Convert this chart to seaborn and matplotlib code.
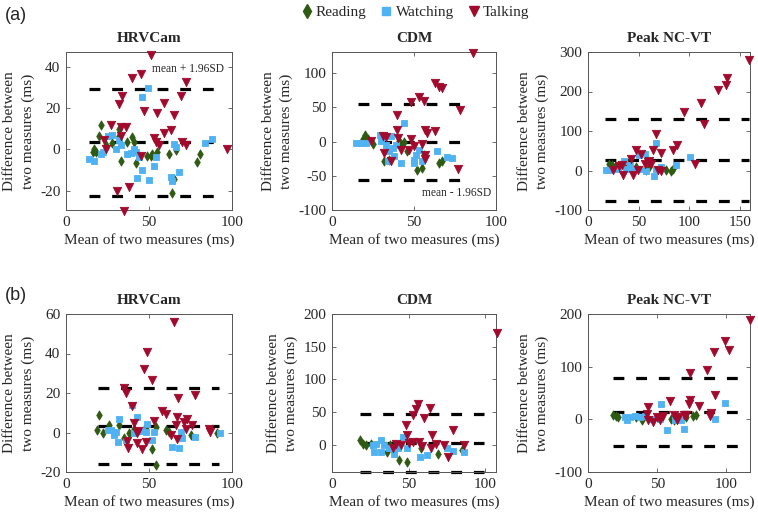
import matplotlib
matplotlib.use("Agg")
import matplotlib.pyplot as plt
import seaborn as sns
import pandas as pd
from matplotlib.lines import Line2D

# ---------------- data ----------------
groups = ["Reading", "Watching", "Talking"]
colors = {"Reading": "#2f5a12", "Watching": "#4fb2f2", "Talking": "#a10a2c"}
markers = {"Reading": "d", "Watching": "s", "Talking": "v"}
sizes = {"Reading": 22, "Watching": 20, "Talking": 36}

titles = ["HRVCam", "CDM", "Peak NC-VT"]

# (a) HRVCam
a_hrv_read_x = [21, 17, 16, 18, 20, 24, 32, 32, 33, 40, 41, 42, 49, 51, 52, 55, 62, 66, 64, 65, 79, 81, 37, 28]
a_hrv_read_y = [11.7, 0.3, -1.3, -1, 6.8, 2, 10, 6.8, -5.4, 6, 3.6, -6.5, -3, -3, -2, -1, -2, -0.5, -21.3, -14.3, -6.2, -2, 3.6, 3.2]
a_hrv_watch_x = [49.6, 46, 14, 17, 21, 22, 25, 28, 30, 33, 37, 39, 41, 42, 44, 46, 43, 50, 53, 54, 65, 66, 63, 64, 68, 84, 88, 32]
a_hrv_watch_y = [30, 25.5, -4.5, -5.4, -2, -1, 6.5, 7, 0.3, 2, -2, -1.6, 0.3, -1.3, -3.7, -10.2, -13.8, -15, -8, -3.7, 2.8, 1, -13.5, -15.6, -11, 3.2, 5.2, 4.4]
a_hrv_talk_x = [51, 40, 45, 72, 34, 32, 69, 47, 59, 55, 65, 27, 33, 36, 59, 63, 53, 54, 23, 24, 33, 45, 56, 70, 72, 97, 31, 38, 35]
a_hrv_talk_y = [46, 35, 36.6, 33, 26, 22, 26, 18.7, 22.8, 17.7, 17, 12, 11, 11, 8, 9.6, 5.7, 3.6, 4.4, 0, 6.5, -3.4, 2, 3.6, 2.3, 0, -20, -18.4, -29.8]

# (a) CDM
a_cdm_read_x = [20, 19, 22, 25, 32, 35, 41, 46, 52, 55, 56, 65, 67, 42, 44]
a_cdm_read_y = [9.3, 4.4, 4, -3.4, -29, -26.5, 1.5, -14, -41, -39, -19, -31, -29, -4, 0]
a_cdm_watch_x = [44, 14.6, 17.7, 20.7, 29, 30, 33, 36, 37, 35, 34, 38, 42, 50, 51, 53, 50, 55, 64, 70, 73, 39]
a_cdm_watch_y = [26.5, -2.5, -2.5, -2, 10, 0.5, -4.4, 8, -9, -14, -29, -21.5, -31, -26.5, -19, -13, -31, -29, -14, -22.5, -24, -4.4]
a_cdm_talk_x = [86, 63, 65, 67, 53, 56, 48, 78, 39.6, 39.6, 63, 57, 58, 40.5, 48, 31, 33, 24, 55, 42, 47, 50, 32, 36, 57, 57, 77]
a_cdm_talk_y = [130, 85, 80, 79, 65, 60, 58, 46, 38.7, 17.6, 16, 17.6, 12.7, 5.4, 4.4, 8, 6, 0.5, -3.4, -13, -13, -7, -16.7, -29, -19, -26, -40]

# (a) Peak NC-VT
a_pk_read_x = [21, 24, 77, 82, 84, 60, 57, 47, 39, 27]
a_pk_read_y = [17, 12.7, 2.5, 0, 4, 8.5, 2.5, 8.5, 17, 8]
a_pk_watch_x = [67, 101, 50, 56, 18, 21, 36, 38, 44, 51, 57, 65, 67, 72, 87, 41, 30]
a_pk_watch_y = [69, 34, 38, 42, 2.5, 2.5, 25, 4, 4, 4, -2.5, -13, 4, 8.5, 12.7, 12.7, 4]
a_pk_talk_x = [159, 137, 136, 128, 112, 95, 115, 67, 88, 84, 47, 52, 64, 72, 42, 59, 62, 56, 106, 25, 31, 34, 35, 44, 49, 69, 72, 60]
a_pk_talk_y = [279, 234, 217, 205, 172, 148, 118, 93, 65, 51, 53, 42, 53, 44, 30, 21, 17, 17, 17, 2.5, 11, 13, -11, -11, 2.5, 2.5, 0, 25]

# (b) HRVCam
b_hrv_read_x = [19.6, 18.4, 22, 26, 32, 35, 51.6, 54, 54, 60, 62, 75, 91, 48, 38, 41]
b_hrv_read_y = [9, 1.2, -0.5, 3.7, 3.7, -2.7, -8.5, -16.3, 2.8, 1.2, 0.3, -1.3, -0.5, 2.8, -0.5, 2]
b_hrv_watch_x = [39.6, 32, 43, 49, 27, 30, 29, 31.6, 36, 41, 48, 53, 51.6, 64, 68, 69, 70, 78, 93, 46, 25]
b_hrv_watch_y = [14, 7, 7.8, 4.5, 1.2, 0.3, -1.3, -4.7, -3.8, -0.5, 0.3, 0.3, -3.8, -7.2, -7.7, 0.3, -3, -2.2, -0.5, 1, 1.5]
b_hrv_talk_x = [65, 48.6, 47, 52, 35, 36, 67.6, 78, 40, 58, 60, 41, 53, 67, 73, 71, 76, 66, 43.6, 42.6, 37, 42.6, 48, 45.6, 37.4, 63, 66.6, 86, 87, 72]
b_hrv_talk_y = [55.7, 41, 32.3, 26.7, 22.5, 20, 17.3, 19, 13.3, 10.7, 9.5, 4.8, 5.7, 7.8, 7, 5.3, 4, 4, 0.7, -0.5, -4.3, -5.2, -4.7, -8.3, -8, -1.3, -3.5, 2, 0.3, 2]

# (b) CDM
b_cdm_read_x = [18, 20, 22, 25.4, 36, 44, 49, 58, 69, 85, 42, 38]
b_cdm_read_y = [6.7, 1.5, -1, 1.5, -11, -23, -27, -6, -14, -9, 0, -1]
b_cdm_watch_x = [46, 26.5, 28.7, 32, 27.6, 32, 37.4, 40.6, 43, 49, 57.6, 62, 75, 78.7, 86, 34]
b_cdm_watch_y = [12, -1, 1.5, 6.7, -11, -12, -6, -15, -6, -6, -19, -16, -5, -10, -11, -1]
b_cdm_talk_x = [107.4, 56, 55, 53, 64, 60, 48, 49, 65, 79, 41.7, 45, 57, 59, 64.6, 73, 76, 86, 52.6, 39.6, 50, 68]
b_cdm_talk_y = [171, 61.5, 55, 45, 56, 41, 30, 14, 14, 22, 1.5, -1, 4, -2, -6, -1, -19, 0, 4, -6, 2, 1]

# (b) Peak NC-VT
b_pk_read_x = [18, 20, 22, 35, 38.7, 60, 62, 71, 76, 78, 66]
b_pk_read_y = [7.6, 5.7, 4.4, 4.4, -0.6, 1.3, -2, 4.4, 5.7, 7.6, 3]
b_pk_watch_x = [53, 99, 57, 69, 26.7, 30, 34, 37.5, 46, 52, 63, 67, 91.6, 28, 41]
b_pk_watch_y = [30, 31, -20, -18, 4.4, 4.4, 5.7, 4.4, 1.3, 1.3, -2, -2, 1.3, -0.6, 6]
b_pk_talk_x = [117, 99, 102, 91, 86, 73.5, 92, 73.5, 73, 59, 80, 43, 42.5, 43.5, 47, 50, 54, 62, 65, 69, 71, 88, 89, 52, 64]
b_pk_talk_y = [189, 149, 132, 128, 94, 88, 47, 36, 30, 35, 25, 23, 9.5, -0.6, -5, 4.4, 5.7, 7.6, 4.4, 7.6, 7.6, 5.7, 12, -1, -2]

# limits of agreement (lower, mean, upper) and x-extent of the lines
loa = [[-22.8, 3.6, 29.6], [-55.9, 0.0, 54.4], [-77, 27, 131],
       [-15.8, 3.3, 22.5], [-42, 2, 47], [-51, 14, 79]]
loa_span = [(14, 89), (15.6, 78), (17, 159), (19, 92), (18, 99), (18, 110)]

xlims = [(0, 100), (0, 100), (0, 160), (0, 100), (0, 107), (0, 117)]
ylims = [(-29.5, 47.5), (-100, 131), (-100, 300), (-20, 60), (-42, 200), (-100, 200)]
yticks = [[-20, 0, 20, 40], [-100, -50, 0, 50, 100], [-100, 0, 100, 200, 300],
          [-20, 0, 20, 40, 60], [0, 50, 100, 150, 200], [-100, 0, 100, 200]]
xticks = [[0, 50, 100], [0, 50, 100], [0, 50, 100, 150], [0, 50, 100], [0, 50, 100], [0, 50, 100]]

panels = [
    (a_hrv_read_x, a_hrv_read_y, a_hrv_watch_x, a_hrv_watch_y, a_hrv_talk_x, a_hrv_talk_y),
    (a_cdm_read_x, a_cdm_read_y, a_cdm_watch_x, a_cdm_watch_y, a_cdm_talk_x, a_cdm_talk_y),
    (a_pk_read_x, a_pk_read_y, a_pk_watch_x, a_pk_watch_y, a_pk_talk_x, a_pk_talk_y),
    (b_hrv_read_x, b_hrv_read_y, b_hrv_watch_x, b_hrv_watch_y, b_hrv_talk_x, b_hrv_talk_y),
    (b_cdm_read_x, b_cdm_read_y, b_cdm_watch_x, b_cdm_watch_y, b_cdm_talk_x, b_cdm_talk_y),
    (b_pk_read_x, b_pk_read_y, b_pk_watch_x, b_pk_watch_y, b_pk_talk_x, b_pk_talk_y),
]

# ---------------- style ----------------
sns.set_style("ticks")
plt.rcParams["font.family"] = ["Liberation Serif", "DejaVu Serif"]
plt.rcParams["axes.unicode_minus"] = False

fig = plt.figure(figsize=(7.58, 5.17), dpi=100)
W, H = 758.0, 517.0
col_px = [(66, 232), (332, 496), (588, 750)]
row_px = [(52, 210), (314, 472)]

axes = []
for r, (top, bot) in enumerate(row_px):
    for c, (lft, rgt) in enumerate(col_px):
        ax = fig.add_axes([lft / W, 1 - bot / H, (rgt - lft) / W, (bot - top) / H])
        axes.append(ax)

for i, ax in enumerate(axes):
    rx, ry, wx, wy, tx, ty = panels[i]
    lo, mid, hi = loa[i]
    x0, x1 = loa_span[i]
    for v in (lo, mid, hi):
        ax.plot([x0, x1], [v, v], color="black", lw=2.3,
                linestyle=(0, (3.4, 3.7)), dash_capstyle="butt", zorder=2, clip_on=False)
    for g, (xs, ys) in zip(groups, [(rx, ry), (wx, wy), (tx, ty)]):
        df = pd.DataFrame({"x": xs, "y": ys})
        sns.scatterplot(data=df, x="x", y="y", ax=ax, marker=markers[g], color=colors[g],
                        s=sizes[g], edgecolor=colors[g], linewidth=0.6, label=g,
                        clip_on=False, zorder=3, legend=False)
    ax.set_xlim(*xlims[i])
    ax.set_ylim(*ylims[i])
    ax.set_xticks(xticks[i])
    ax.set_yticks(yticks[i])
    ax.tick_params(direction="in", top=True, right=True, length=3, width=0.5,
                   labelsize=11, pad=4, color="#333333")
    for sp in ax.spines.values():
        sp.set_visible(True)
        sp.set_color("#555555")
        sp.set_linewidth(0.7)
    ax.set_title(titles[i % 3], fontsize=11, fontweight="bold", pad=7)
    ax.set_xlabel("Mean of two measures (ms)", fontsize=11, labelpad=3)
    ax.set_ylabel("Difference between\ntwo measures (ms)", fontsize=11, labelpad=4,
                  linespacing=1.45)

axes[0].text(0.95, 0.895, "mean + 1.96SD", transform=axes[0].transAxes, ha="right",
             va="center", fontsize=8.3)
axes[1].text(0.97, 0.105, "mean - 1.96SD", transform=axes[1].transAxes, ha="right",
             va="center", fontsize=8.3)

fig.text(5 / W, 1 - 16 / H, "(a)", fontsize=13, fontfamily=["Liberation Sans", "DejaVu Sans"],
         ha="left", va="center")
fig.text(5 / W, 1 - 295 / H, "(b)", fontsize=13, fontfamily=["Liberation Sans", "DejaVu Sans"],
         ha="left", va="center")

handles = [Line2D([], [], linestyle="none", marker=markers[g], color=colors[g],
                  markeredgecolor=colors[g], markersize=(7 if g != "Watching" else 5.5))
           for g in groups]
fig.legend(handles, groups, loc="center", bbox_to_anchor=(414 / W, 1 - 12 / H), ncol=3,
           frameon=False, fontsize=11, handletextpad=0.1, columnspacing=0.8,
           handlelength=1.0, borderpad=0.1)

fig.savefig("out.png", dpi=100, facecolor="white")
